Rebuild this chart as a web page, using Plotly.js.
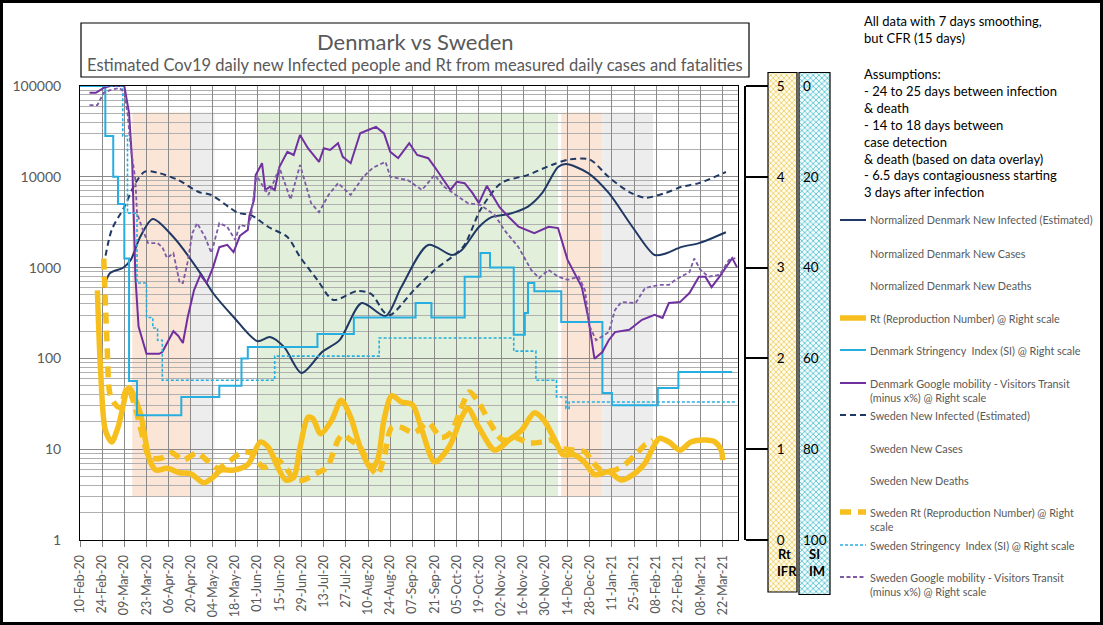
<!DOCTYPE html>
<html><head><meta charset="utf-8">
<script src="https://cdn.plot.ly/plotly-3.0.1.min.js"></script>
<style>html,body{margin:0;padding:0;background:#fff;}#chart{width:1103px;height:625px;}</style>
</head><body><div id="chart"></div>
<script>
// ---------------- DATA ----------------
const dkInfDates = ['2020-02-25','2020-02-29','2020-03-08','2020-03-13','2020-03-19','2020-03-27','2020-04-09','2020-04-26','2020-05-04','2020-05-17','2020-06-01','2020-06-09','2020-06-18','2020-06-29','2020-07-12','2020-07-23','2020-08-06','2020-08-21','2020-08-31','2020-09-17','2020-10-02','2020-10-08','2020-10-19','2020-10-27','2020-11-07','2020-11-19','2020-11-28','2020-12-08','2020-12-13','2020-12-27','2021-01-09','2021-01-24','2021-02-07','2021-02-14','2021-02-24','2021-03-07','2021-03-24'];
const dkInf = [600,870,990,1210,2170,3430,2170,870,525,286,155,172,133,69,118,159,407,293,611,1774,1376,1550,2800,3600,3900,4700,6640,12800,13800,11000,6640,2800,1376,1430,1690,1860,2450];

const swInfDates = ['2020-02-25','2020-03-01','2020-03-09','2020-03-16','2020-03-22','2020-03-30','2020-04-12','2020-04-25','2020-05-03','2020-05-14','2020-05-20','2020-05-28','2020-06-08','2020-06-20','2020-06-28','2020-07-09','2020-07-19','2020-08-03','2020-08-12','2020-08-20','2020-08-24','2020-09-08','2020-09-21','2020-10-09','2020-10-20','2020-11-02','2020-11-19','2020-12-04','2020-12-15','2020-12-28','2021-01-09','2021-01-22','2021-02-01','2021-02-14','2021-02-24','2021-03-07','2021-03-24'];
const swInf = [1050,2590,4650,8520,11400,11100,9230,6800,6300,4650,4000,3780,2800,2170,1310,730,440,552,512,324,300,567,940,1690,4340,8520,10500,13500,15500,15500,9930,6800,5890,6640,7760,8520,11300];

const dkRtDates = ['2020-02-21','2020-02-23','2020-02-26','2020-03-01','2020-03-05','2020-03-12','2020-03-19','2020-03-25','2020-03-29','2020-04-05','2020-04-13','2020-04-20','2020-04-28','2020-05-04','2020-05-09','2020-05-17','2020-05-26','2020-06-03','2020-06-08','2020-06-14','2020-06-19','2020-06-24','2020-06-28','2020-07-03','2020-07-06','2020-07-11','2020-07-18','2020-07-24','2020-07-30','2020-08-05','2020-08-12','2020-08-16','2020-08-20','2020-08-25','2020-08-31','2020-09-07','2020-09-13','2020-09-21','2020-09-30','2020-10-08','2020-10-12','2020-10-19','2020-10-29','2020-11-07','2020-11-15','2020-11-23','2020-11-29','2020-12-06','2020-12-11','2020-12-18','2020-12-25','2020-12-31','2021-01-09','2021-01-17','2021-01-26','2021-02-01','2021-02-06','2021-02-10','2021-02-16','2021-02-23','2021-03-02','2021-03-11','2021-03-17','2021-03-21','2021-03-22'];
const dkRt = [2.75,1.87,1.21,1.08,1.24,1.68,1.4,0.88,0.77,0.79,0.74,0.73,0.63,0.69,0.77,0.77,0.83,1.08,1.02,0.8,0.66,0.69,1.02,1.35,1.34,1.17,1.32,1.54,1.35,1.02,0.79,0.88,1.32,1.59,1.52,1.49,1.21,0.86,1.02,1.35,1.45,1.24,0.99,1.1,1.21,1.4,1.32,1.1,0.94,0.94,0.85,0.72,0.75,0.66,0.74,0.85,1.02,1.12,1.08,0.99,1.08,1.1,1.08,0.99,0.88];

const swRtDates = ['2020-02-25','2020-02-27','2020-02-29','2020-03-03','2020-03-06','2020-03-11','2020-03-16','2020-03-20','2020-03-25','2020-04-01','2020-04-08','2020-04-15','2020-04-24','2020-04-30','2020-05-07','2020-05-13','2020-05-22','2020-05-28','2020-06-05','2020-06-14','2020-06-20','2020-06-25','2020-06-30','2020-07-09','2020-07-15','2020-07-22','2020-07-25','2020-07-30','2020-08-05','2020-08-12','2020-08-16','2020-08-20','2020-08-25','2020-08-31','2020-09-08','2020-09-17','2020-09-25','2020-10-01','2020-10-08','2020-10-13','2020-10-19','2020-10-26','2020-11-03','2020-11-11','2020-11-19','2020-11-28','2020-12-04','2020-12-10','2020-12-18','2020-12-25','2020-12-29','2021-01-04','2021-01-13','2021-01-19','2021-01-26','2021-02-01','2021-02-06'];
const swRt = [3.1,2.2,1.6,1.5,1.46,1.68,1.45,1.18,0.91,0.9,0.96,0.88,0.96,0.88,0.79,0.85,0.96,0.96,0.8,0.88,0.77,0.66,0.66,0.74,0.8,1.1,1.16,1.1,1.02,0.79,0.72,0.91,1.24,1.24,1.18,1.29,1.13,1.18,1.46,1.63,1.51,1.29,1.1,1.13,1.07,1.08,1.1,1.01,0.99,0.97,0.88,0.77,0.77,0.83,0.94,1.05,1.1];

const dkSIDates = ['2020-02-10','2020-02-26','2020-03-02','2020-03-05','2020-03-09','2020-03-12','2020-03-17','2020-04-14','2020-05-08','2020-05-22','2020-05-26','2020-07-09','2020-08-01','2020-09-09','2020-09-19','2020-10-10','2020-10-20','2020-10-26','2020-11-10','2020-11-17','2020-11-19','2020-11-23','2020-12-10','2021-01-05','2021-01-11','2021-02-09','2021-02-22','2021-03-28'];
const dkSI = [0,11,20,26,38,65,72.5,68.5,66,60,57.5,54.6,51,47.8,51,42,36.8,40,54.8,50,43.4,45.2,52,67.6,70.3,66.5,63,63];

const swSIDates = ['2020-02-10','2020-03-08','2020-03-11','2020-03-17','2020-03-23','2020-03-27','2020-03-30','2020-04-02','2020-06-12','2020-08-17','2020-11-10','2020-11-24','2020-12-07','2020-12-13','2020-12-15','2021-03-31'];
const swSI = [0,11,28,43.4,51,53.3,56,64.8,59.5,55.5,58.4,64.8,68.5,71,69.6,69.6];

const dkMobDates = ['2020-02-16','2020-02-20','2020-02-25','2020-02-29','2020-03-09','2020-03-12','2020-03-14','2020-03-15','2020-03-16','2020-03-18','2020-03-23','2020-03-31','2020-04-02','2020-04-09','2020-04-12','2020-04-15','2020-04-18','2020-04-22','2020-04-26','2020-04-30','2020-05-04','2020-05-08','2020-05-13','2020-05-17','2020-05-21','2020-05-26','2020-05-27','2020-05-30','2020-05-31','2020-06-04','2020-06-06','2020-06-09','2020-06-12','2020-06-15','2020-06-20','2020-06-24','2020-06-28','2020-07-03','2020-07-10','2020-07-13','2020-07-17','2020-07-22','2020-07-25','2020-07-30','2020-08-05','2020-08-10','2020-08-15','2020-08-20','2020-08-24','2020-08-29','2020-09-05','2020-09-10','2020-09-17','2020-09-21','2020-09-27','2020-10-01','2020-10-05','2020-10-10','2020-10-15','2020-10-19','2020-10-24','2020-11-01','2020-11-07','2020-11-13','2020-11-23','2020-12-02','2020-12-08','2020-12-14','2020-12-23','2020-12-27','2020-12-31','2021-01-05','2021-01-09','2021-01-13','2021-01-22','2021-01-30','2021-02-07','2021-02-12','2021-02-16','2021-02-23','2021-03-01','2021-03-07','2021-03-11','2021-03-15','2021-03-20','2021-03-26','2021-03-28','2021-03-31'];
const dkMob = [1.5,1.5,0.4,0,0,6,17,28,42,53,59,59,58.6,54,55,56.6,51,45,41.6,43.4,40,35.5,35,36.6,33,31.7,28.6,25,19.6,17,22.9,22.2,22.9,17.8,14.5,15.2,10.8,13.7,16.7,13.7,14.1,12.6,15.6,17,10.4,9.7,9,10.4,14.5,15.9,12.6,15.2,15.9,17.8,20.7,22.9,21.1,21.4,23.6,25.8,22,26.7,28.9,31,32.4,31,31.3,38.3,44.3,50.9,60.1,58.6,56,54.2,53.7,51.5,50.4,51.1,47.8,47.6,45.6,42,42,44.3,42,39,37.9,39.9];

const swMobDates = ['2020-02-16','2020-02-21','2020-02-25','2020-02-29','2020-03-06','2020-03-09','2020-03-11','2020-03-13','2020-03-16','2020-03-17','2020-03-21','2020-03-24','2020-03-30','2020-04-02','2020-04-05','2020-04-09','2020-04-13','2020-04-15','2020-04-18','2020-04-21','2020-04-24','2020-04-29','2020-05-03','2020-05-08','2020-05-13','2020-05-18','2020-05-21','2020-05-26','2020-05-28','2020-05-31','2020-06-01','2020-06-08','2020-06-15','2020-06-22','2020-06-28','2020-07-05','2020-07-10','2020-07-16','2020-07-22','2020-07-30','2020-08-07','2020-08-13','2020-08-21','2020-08-24','2020-09-04','2020-09-13','2020-09-21','2020-09-27','2020-10-06','2020-10-12','2020-10-20','2020-10-29','2020-11-04','2020-11-13','2020-11-21','2020-11-26','2020-12-02','2020-12-08','2020-12-14','2020-12-21','2020-12-25','2020-12-28','2021-01-01','2021-01-09','2021-01-13','2021-01-17','2021-01-26','2021-02-01','2021-02-10','2021-02-16','2021-02-20','2021-03-01','2021-03-04','2021-03-08','2021-03-13','2021-03-20','2021-03-26','2021-03-30'];
const swMob = [4.2,4.2,1.5,0.9,0.4,1.5,6,13.4,20.7,28,32,34.6,34.6,35.5,37.9,36.8,43.4,43.4,38.8,32.4,30.2,33.3,36.8,30.2,31,33.9,30.6,31,28.9,20.7,20,24,18,25,17.4,25.8,27.8,24,21.4,24,20,18,16.7,20,20.7,22.9,19.6,22.2,24.4,25.8,26.2,28.4,31.7,35.5,40.5,42.3,40.5,42,42.7,42,45,53,56,54.2,49.3,47.6,47.8,44.5,43.8,43.8,42.7,41,38,40.5,42,41.6,38.3,37.9];

const xTickFormat = '%d-%b-%y';
const leftTickVals = [1,10,100,1000,10000,100000];
const leftTickText = ['1','10','100','1000','10000','100000'];
const rtTickVals = [0,1,2,3,4,5];
const siTickVals = [0,20,40,60,80,100];

const titleText = 'Denmark vs Sweden';
const subtitleText = 'Estimated Cov19 daily new Infected people and Rt from measured daily cases and fatalities';
const notes1 = ['All data with 7 days smoothing,','but CFR (15 days)'];
const notes2 = ['Assumptions:','- 24 to 25 days between infection','& death','- 14 to 18 days between','case detection','& death (based on data overlay)','- 6.5 days contagiousness starting','3 days after infection'];
const legendLabels = [
  ['Normalized Denmark New Infected (Estimated)'],
  ['Normalized Denmark New Cases'],
  ['Normalized Denmark New Deaths'],
  ['Rt (Reproduction Number) @ Right scale'],
  ['Denmark Stringency  Index (SI) @ Right scale'],
  ['Denmark Google mobility - Visitors Transit','(minus x%) @ Right scale'],
  ['Sweden New Infected (Estimated)'],
  ['Sweden New Cases'],
  ['Sweden New Deaths'],
  ['Sweden Rt (Reproduction Number) @ Right','scale'],
  ['Sweden Stringency  Index (SI) @ Right scale'],
  ['Sweden Google mobility - Visitors Transit','(minus x%) @ Right scale']
];

// ---------------- LAYOUT HELPERS ----------------
const W=1103, H=625, ML=80, MR=8, MT=86, MB=85;
const PW=W-ML-MR, PH=H-MT-MB;
const px = x => (x-ML)/PW;
const py = y => (H-MB-y)/PH;
const FONT = 'Lato, "Open Sans", sans-serif';
const GRAY = '#595959';

const NAVY='#203864', LBLUE='#27aee0', PURPLE='#7030a0', PURPLE2='#7d5aa6', GOLD='#f7bf1e';

const traces = [
  {x:dkInfDates, y:dkInf, name:'Normalized Denmark New Infected (Estimated)', type:'scatter', mode:'lines', line:{color:NAVY,width:2,shape:'spline',smoothing:0.8}, yaxis:'y'},
  {x:dkRtDates, y:dkRt, name:'Rt (Reproduction Number) @ Right scale', type:'scatter', mode:'lines', line:{color:GOLD,width:5.5,shape:'spline',smoothing:0.8}, yaxis:'y2'},
  {x:dkSIDates, y:dkSI, name:'Denmark Stringency Index (SI)', type:'scatter', mode:'lines', line:{color:LBLUE,width:2,shape:'hv'}, yaxis:'y3'},
  {x:dkMobDates, y:dkMob, name:'Denmark Google mobility', type:'scatter', mode:'lines', line:{color:PURPLE,width:2}, yaxis:'y3'},
  {x:swInfDates, y:swInf, name:'Sweden New Infected (Estimated)', type:'scatter', mode:'lines', line:{color:NAVY,width:2,dash:'6px,4px',shape:'spline',smoothing:0.8}, yaxis:'y'},
  {x:swRtDates, y:swRt, name:'Sweden Rt (Reproduction Number)', type:'scatter', mode:'lines', line:{color:GOLD,width:5.5,dash:'11px,7px',shape:'spline',smoothing:0.8}, yaxis:'y2'},
  {x:swSIDates, y:swSI, name:'Sweden Stringency Index (SI)', type:'scatter', mode:'lines', line:{color:LBLUE,width:1.6,dash:'3px,2px',shape:'hv'}, yaxis:'y3'},
  {x:swMobDates, y:swMob, name:'Sweden Google mobility', type:'scatter', mode:'lines', line:{color:PURPLE2,width:1.8,dash:'4px,2.5px'}, yaxis:'y3'}
];

// minor log gridlines
const minorVals=[];
for(let e=0;e<5;e++){for(let m=2;m<=9;m++){minorVals.push(m*Math.pow(10,e));}}

const shapes = [];
const shadeY0 = py(497), shadeY1 = py(112.5);
[['2020-03-14','2020-04-20','#fbe5d6'],['2020-04-20','2020-05-05','#ededed'],['2020-06-01','2020-12-08','#e2efda'],['2020-12-10','2021-01-05','#fbe5d6'],['2021-01-05','2021-02-06','#ededed']]
 .forEach(s=>shapes.push({type:'rect',xref:'x',yref:'paper',x0:s[0],x1:s[1],y0:shadeY0,y1:shadeY1,fillcolor:s[2],line:{width:0},layer:'below'}));
shapes.push({type:'rect',xref:'paper',yref:'paper',x0:px(81),x1:px(749),y0:py(77),y1:py(23),line:{color:'black',width:1.2},fillcolor:'rgba(0,0,0,0)'});
shapes.push({type:'rect',xref:'paper',yref:'paper',x0:px(768),x1:px(797),y0:py(592),y1:py(72.5),line:{color:'black',width:1.2},fillcolor:'rgba(0,0,0,0)'});
shapes.push({type:'rect',xref:'paper',yref:'paper',x0:px(799),x1:px(830),y0:py(594.5),y1:py(72.5),line:{color:'black',width:1.2},fillcolor:'rgba(0,0,0,0)'});
shapes.push({type:'rect',xref:'paper',yref:'paper',x0:px(1.5),x1:px(1101.5),y0:py(623.5),y1:py(1.5),line:{color:'black',width:3},fillcolor:'rgba(0,0,0,0)'});

const legY = [220,253,285,318,350,383,415,448,480,512,545,577];
const legStyle = [
  {color:NAVY,width:2},null,null,{color:GOLD,width:5.5},{color:LBLUE,width:2},{color:PURPLE,width:2},
  {color:NAVY,width:2,dash:'6px,4px'},null,null,{color:GOLD,width:5.5,dash:'11px,7px'},{color:LBLUE,width:1.6,dash:'3px,2px'},{color:PURPLE2,width:1.8,dash:'4px,2.5px'}
];
const annotations = [];
legendLabels.forEach((lines,i)=>{
  lines.forEach((t,j)=>{
    annotations.push({xref:'paper',yref:'paper',x:px(868),y:py(legY[i]+j*14.5),text:t,showarrow:false,xanchor:'left',yanchor:'middle',font:{family:FONT,size:10.8,color:GRAY}});
  });
  if(legStyle[i]) shapes.push({type:'line',xref:'paper',yref:'paper',x0:px(840),x1:px(866),y0:py(legY[i]),y1:py(legY[i]),line:legStyle[i]});
});

annotations.push({xref:'paper',yref:'paper',x:px(415),y:py(42),text:titleText,showarrow:false,xanchor:'center',yanchor:'middle',font:{family:FONT,size:22,color:GRAY}});
annotations.push({xref:'paper',yref:'paper',x:px(415),y:py(65),text:subtitleText,showarrow:false,xanchor:'center',yanchor:'middle',font:{family:FONT,size:16.5,color:GRAY}});
annotations.push({xref:'paper',yref:'paper',x:px(862),y:py(11),text:notes1.join('<br>'),showarrow:false,xanchor:'left',yanchor:'top',align:'left',font:{family:FONT,size:13,color:'#000'}});
annotations.push({xref:'paper',yref:'paper',x:px(862),y:py(64),text:notes2.join('<br>'),showarrow:false,xanchor:'left',yanchor:'top',align:'left',font:{family:FONT,size:13,color:'#000'}});
[['Rt',776,554],['IFR',775,571],['SI',807,554],['IM',807,571]].forEach(a=>{
  annotations.push({xref:'paper',yref:'paper',x:px(a[1]),y:py(a[2]),text:'<b>'+a[0]+'</b>',showarrow:false,xanchor:'left',yanchor:'middle',font:{family:FONT,size:13,color:'#000'}});
});

function hatch(bg, fg){
  const s = '<svg xmlns="http://www.w3.org/2000/svg" width="30" height="520"><defs><pattern id="p" width="5.5" height="5.5" patternUnits="userSpaceOnUse"><path d="M0,0L5.5,5.5M5.5,0L0,5.5" stroke="'+fg+'" stroke-width="0.7"/></pattern></defs><rect width="30" height="520" fill="'+bg+'"/><rect width="30" height="520" fill="url(#p)"/></svg>';
  return 'data:image/svg+xml;charset=utf-8,'+encodeURIComponent(s);
}
const images = [
  {source:hatch('#fffbea','#e6c243'),xref:'paper',yref:'paper',x:px(768),y:py(72.5),sizex:29/PW,sizey:519.5/PH,xanchor:'left',yanchor:'top',sizing:'stretch',layer:'below'},
  {source:hatch('#f0fbfc','#3cb7c8'),xref:'paper',yref:'paper',x:px(799),y:py(72.5),sizex:31/PW,sizey:522/PH,xanchor:'left',yanchor:'top',sizing:'stretch',layer:'below'}
];

const layout = {
  width:W, height:H,
  margin:{l:ML,r:MR,t:MT,b:MB},
  paper_bgcolor:'#ffffff', plot_bgcolor:'rgba(0,0,0,0)',
  showlegend:false,
  font:{family:FONT,color:GRAY},
  xaxis:{type:'date',domain:[0,px(738)],range:['2020-02-10','2021-03-31 16:00'],tick0:'2020-02-10',dtick:14*86400000,tickformat:xTickFormat,tickangle:-90,
    ticks:'outside',ticklen:6,tickcolor:'#7f7f7f',showgrid:true,gridcolor:'#8a8a8a',gridwidth:1,showline:true,linecolor:'#000',linewidth:1,mirror:true,zeroline:false,
    ticklabelstandoff:3,tickfont:{family:FONT,size:12.5,color:GRAY}},
  yaxis:{type:'log',range:[0,5],tickmode:'array',tickvals:leftTickVals,ticktext:leftTickText,ticks:'',showgrid:true,gridcolor:'#8a8a8a',gridwidth:1,
    showline:true,linecolor:'#000',linewidth:1,mirror:true,zeroline:false,ticklabelstandoff:15,tickfont:{family:FONT,size:14,color:GRAY}},
  yaxis2:{overlaying:'y',anchor:'free',position:px(745),side:'right',range:[0,5],tickmode:'array',tickvals:rtTickVals,showgrid:false,zeroline:false,
    showline:true,linecolor:'#000',linewidth:2,ticks:'outside',ticklen:22,tickwidth:2,tickcolor:'#000',ticklabelstandoff:6,tickfont:{family:FONT,size:13.5,color:'#000'}},
  yaxis3:{overlaying:'y',anchor:'free',position:px(802),side:'right',range:[100,0],tickmode:'array',tickvals:siTickVals,showgrid:false,zeroline:false,
    showline:false,ticks:'',tickfont:{family:FONT,size:13.5,color:'#000'}},
  shapes:shapes, annotations:annotations, images:images
};
layout.yaxis.minor = {tickmode:'array',tickvals:minorVals,showgrid:true,gridcolor:'#b0b0b0',gridwidth:1,ticks:''};

Plotly.newPlot('chart', traces, layout, {displayModeBar:false, staticPlot:true});
</script></body></html>
